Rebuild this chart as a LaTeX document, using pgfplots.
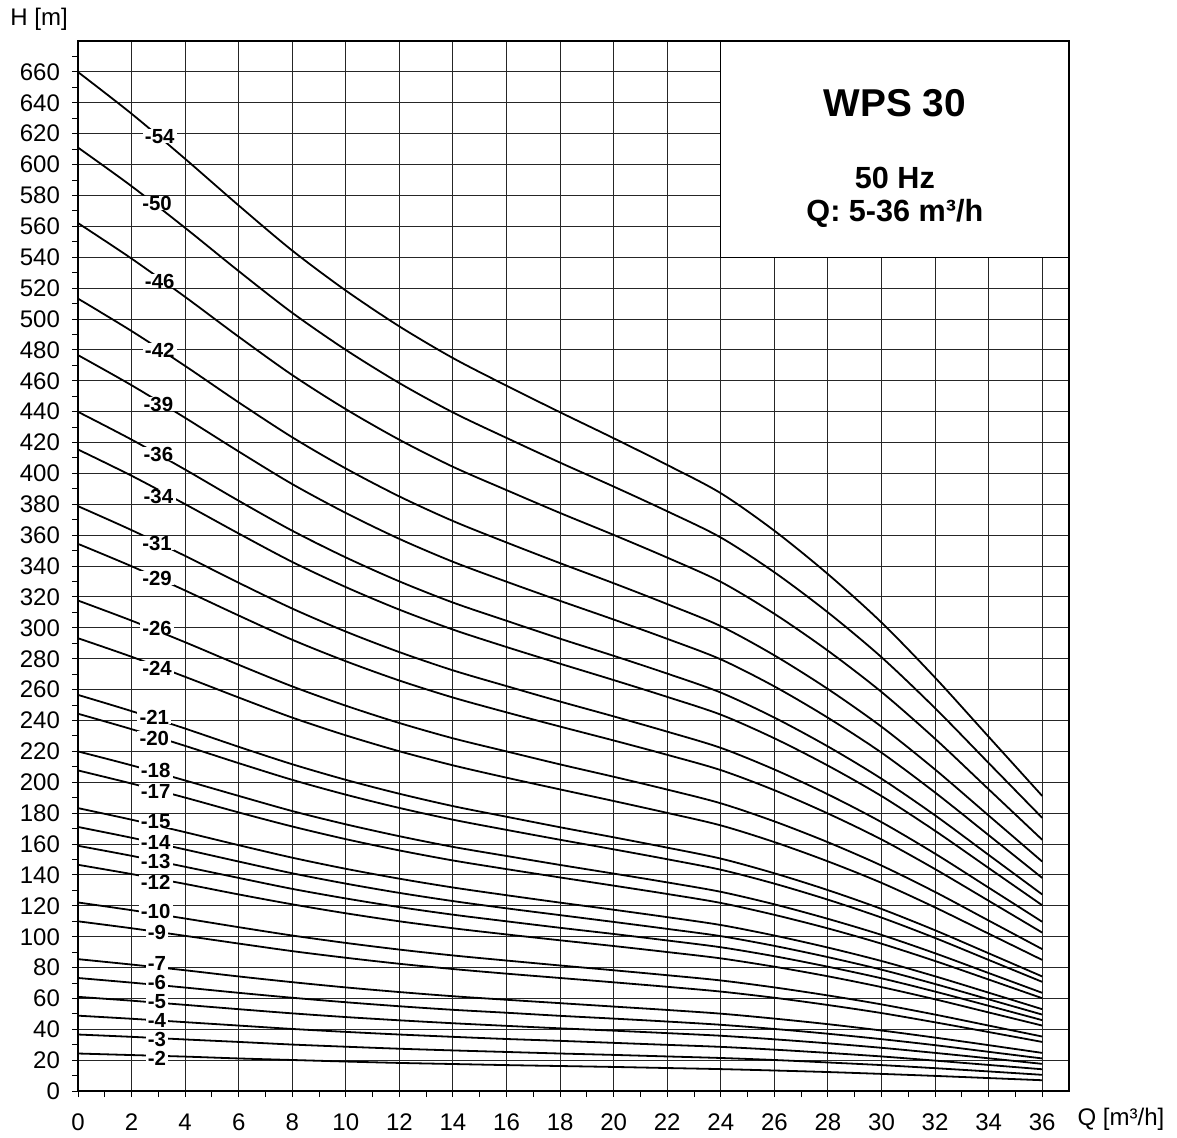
\documentclass[border=0pt]{standalone}
\usepackage{fontspec}
\setmainfont{Liberation Sans}
\usepackage{pgfplots}
\pgfplotsset{compat=1.18}
\tikzset{
  lbl/.style={font=\bfseries\fontsize{10.2}{11}\selectfont, fill=white, inner xsep=1.2pt, inner ysep=0pt},
  pc/.style={black, line width=0.9pt, smooth, mark=none},
}

\begin{document}
\begin{tikzpicture}
\useasboundingbox (-39pt,-23pt) rectangle (549.4pt,545.5pt);
\begin{axis}[
  at={(0pt,0pt)}, anchor=south west,
  scale only axis, width=495.4pt, height=525pt,
  xmin=0, xmax=37, ymin=0, ymax=680,
  xtick={0,2,...,36}, minor xtick={1,3,...,35},
  ytick={0,20,...,660}, minor ytick={10,30,...,670},
  tick pos=left, tick align=outside,
  major tick length=3pt, minor tick length=3pt,
  every tick/.style={black, line width=0.5pt},
  grid=major, major grid style={black!85, line width=0.5pt},
  axis line style={black, line width=1.1pt},
  tick label style={font=\fontsize{12}{14}\selectfont},
  /pgf/number format/assume math mode=true,
  xticklabel style={yshift=-4.7pt},
  yticklabel style={xshift=-2.5pt},
  clip=false,
]
% stage curves H(Q), Q in m3/h, H in m
\addplot[pc] coordinates {(0,24.4) (2,23.4) (4,22.4) (6,21.2) (8,20.2) (10,19.2) (12,18.3) (14,17.6) (16,16.9) (18,16.3) (20,15.7) (22,15.0) (24,14.3) (26,13.4) (28,12.4) (30,11.2) (32,9.9) (34,8.5) (36,7.1)};
\addplot[pc] coordinates {(0,36.7) (2,35.2) (4,33.5) (6,31.9) (8,30.2) (10,28.8) (12,27.5) (14,26.4) (16,25.4) (18,24.4) (20,23.5) (22,22.5) (24,21.5) (26,20.2) (28,18.6) (30,16.9) (32,14.9) (34,12.8) (36,10.6)};
\addplot[pc] coordinates {(0,48.9) (2,46.9) (4,44.7) (6,42.5) (8,40.3) (10,38.4) (12,36.7) (14,35.2) (16,33.8) (18,32.6) (20,31.3) (22,30.0) (24,28.7) (26,26.9) (28,24.8) (30,22.5) (32,19.8) (34,17.0) (36,14.2)};
\addplot[pc] coordinates {(0,61.1) (2,58.6) (4,55.9) (6,53.1) (8,50.4) (10,48.0) (12,45.9) (14,44.0) (16,42.3) (18,40.7) (20,39.2) (22,37.6) (24,35.9) (26,33.6) (28,31.0) (30,28.1) (32,24.8) (34,21.3) (36,17.7)};
\addplot[pc] coordinates {(0,73.3) (2,70.3) (4,67.1) (6,63.7) (8,60.5) (10,57.6) (12,55.0) (14,52.7) (16,50.8) (18,48.8) (20,47.0) (22,45.1) (24,43.0) (26,40.3) (28,37.2) (30,33.7) (32,29.8) (34,25.5) (36,21.2)};
\addplot[pc] coordinates {(0,85.5) (2,82.0) (4,78.3) (6,74.3) (8,70.6) (10,67.2) (12,64.2) (14,61.5) (16,59.2) (18,57.0) (20,54.8) (22,52.6) (24,50.2) (26,47.0) (28,43.4) (30,39.3) (32,34.7) (34,29.8) (36,24.8)};
\addplot[pc] coordinates {(0,110.0) (2,105.5) (4,100.6) (6,95.6) (8,90.7) (10,86.4) (12,82.5) (14,79.1) (16,76.1) (18,73.3) (20,70.5) (22,67.6) (24,64.5) (26,60.5) (28,55.8) (30,50.6) (32,44.6) (34,38.3) (36,31.9)};
\addplot[pc] coordinates {(0,122.2) (2,117.2) (4,111.8) (6,106.2) (8,100.8) (10,96.0) (12,91.7) (14,87.9) (16,84.6) (18,81.4) (20,78.3) (22,75.1) (24,71.7) (26,67.2) (28,62.0) (30,56.2) (32,49.6) (34,42.5) (36,35.4)};
\addplot[pc] coordinates {(0,146.6) (2,140.6) (4,134.2) (6,127.4) (8,121.0) (10,115.2) (12,110.0) (14,105.5) (16,101.5) (18,97.7) (20,94.0) (22,90.1) (24,86.0) (26,80.6) (28,74.4) (30,67.4) (32,59.5) (34,51.0) (36,42.5)};
\addplot[pc] coordinates {(0,158.9) (2,152.4) (4,145.3) (6,138.1) (8,131.0) (10,124.8) (12,119.2) (14,114.3) (16,110.0) (18,105.8) (20,101.8) (22,97.6) (24,93.2) (26,87.4) (28,80.6) (30,73.1) (32,64.5) (34,55.3) (36,46.0)};
\addplot[pc] coordinates {(0,171.1) (2,164.1) (4,156.5) (6,148.7) (8,141.1) (10,134.4) (12,128.4) (14,123.1) (16,118.4) (18,114.0) (20,109.6) (22,105.1) (24,100.4) (26,94.1) (28,86.8) (30,78.7) (32,69.4) (34,59.5) (36,49.6)};
\addplot[pc] coordinates {(0,183.3) (2,175.8) (4,167.7) (6,159.3) (8,151.2) (10,144.0) (12,137.6) (14,131.9) (16,126.9) (18,122.1) (20,117.5) (22,112.7) (24,107.6) (26,100.8) (28,93.0) (30,84.3) (32,74.4) (34,63.8) (36,53.1)};
\addplot[pc] coordinates {(0,207.7) (2,199.2) (4,190.1) (6,180.5) (8,171.4) (10,163.2) (12,155.9) (14,149.4) (16,143.8) (18,138.4) (20,133.1) (22,127.7) (24,121.9) (26,114.2) (28,105.4) (30,95.5) (32,84.3) (34,72.3) (36,60.2)};
\addplot[pc] coordinates {(0,220.0) (2,211.0) (4,201.2) (6,191.2) (8,181.4) (10,172.8) (12,165.1) (14,158.2) (16,152.3) (18,146.5) (20,140.9) (22,135.2) (24,129.1) (26,121.0) (28,111.6) (30,101.2) (32,89.3) (34,76.5) (36,63.7)};
\addplot[pc] coordinates {(0,244.4) (2,234.4) (4,223.6) (6,212.4) (8,201.6) (10,192.0) (12,183.4) (14,175.8) (16,169.2) (18,162.8) (20,156.6) (22,150.2) (24,143.4) (26,134.4) (28,124.0) (30,112.4) (32,99.2) (34,85.0) (36,70.8)};
\addplot[pc] coordinates {(0,256.6) (2,246.1) (4,234.8) (6,223.0) (8,211.7) (10,201.6) (12,192.6) (14,184.6) (16,177.7) (18,170.9) (20,164.4) (22,157.7) (24,150.6) (26,141.1) (28,130.2) (30,118.0) (32,104.2) (34,89.3) (36,74.3)};
\addplot[pc] coordinates {(0,293.3) (2,281.3) (4,268.3) (6,254.9) (8,241.9) (10,230.4) (12,220.1) (14,211.0) (16,203.0) (18,195.4) (20,187.9) (22,180.2) (24,172.1) (26,161.3) (28,148.8) (30,134.9) (32,119.0) (34,102.0) (36,85.0)};
\addplot[pc] coordinates {(0,317.7) (2,304.7) (4,290.7) (6,276.1) (8,262.1) (10,249.6) (12,238.4) (14,228.5) (16,220.0) (18,211.6) (20,203.6) (22,195.3) (24,186.4) (26,174.7) (28,161.2) (30,146.1) (32,129.0) (34,110.5) (36,92.0)};
\addplot[pc] coordinates {(0,354.4) (2,339.9) (4,324.2) (6,308.0) (8,292.3) (10,278.4) (12,265.9) (14,254.9) (16,245.3) (18,236.1) (20,227.1) (22,217.8) (24,207.9) (26,194.9) (28,179.8) (30,163.0) (32,143.8) (34,123.3) (36,102.7)};
\addplot[pc] coordinates {(0,378.8) (2,363.3) (4,346.6) (6,329.2) (8,312.5) (10,297.6) (12,284.3) (14,272.5) (16,262.3) (18,252.3) (20,242.7) (22,232.8) (24,222.3) (26,208.3) (28,192.2) (30,174.2) (32,153.8) (34,131.8) (36,109.7)};
\addplot[pc] coordinates {(0,415.5) (2,398.5) (4,380.1) (6,361.1) (8,342.7) (10,326.4) (12,311.8) (14,298.9) (16,287.6) (18,276.8) (20,266.2) (22,255.3) (24,243.8) (26,228.5) (28,210.8) (30,191.1) (32,168.6) (34,144.5) (36,120.4)};
\addplot[pc] coordinates {(0,439.9) (2,421.9) (4,402.5) (6,382.3) (8,362.9) (10,345.6) (12,330.1) (14,316.4) (16,304.6) (18,293.0) (20,281.9) (22,270.4) (24,258.1) (26,241.9) (28,223.2) (30,202.3) (32,178.6) (34,153.0) (36,127.4)};
\addplot[pc] coordinates {(0,476.6) (2,457.1) (4,436.0) (6,414.2) (8,393.1) (10,374.4) (12,357.6) (14,342.8) (16,329.9) (18,317.5) (20,305.4) (22,292.9) (24,279.6) (26,262.1) (28,241.8) (30,219.2) (32,193.4) (34,165.8) (36,138.1)};
\addplot[pc] coordinates {(0,513.2) (2,492.2) (4,469.6) (6,446.0) (8,423.4) (10,403.2) (12,385.1) (14,369.2) (16,355.3) (18,341.9) (20,328.9) (22,315.4) (24,301.1) (26,282.2) (28,260.4) (30,236.0) (32,208.3) (34,178.5) (36,148.7)};
\addplot[pc] coordinates {(0,562.1) (2,539.1) (4,514.3) (6,488.5) (8,463.7) (10,441.6) (12,421.8) (14,404.3) (16,389.2) (18,374.4) (20,360.2) (22,345.5) (24,329.8) (26,309.1) (28,285.2) (30,258.5) (32,228.2) (34,195.5) (36,162.8)};
\addplot[pc] coordinates {(0,611.0) (2,586.0) (4,559.0) (6,531.0) (8,504.0) (10,480.0) (12,458.5) (14,439.5) (16,423.0) (18,407.0) (20,391.5) (22,375.5) (24,358.5) (26,336.0) (28,310.0) (30,281.0) (32,248.0) (34,212.5) (36,177.0)};
\addplot[pc] coordinates {(0,659.9) (2,632.9) (4,603.7) (6,573.5) (8,544.3) (10,518.4) (12,495.2) (14,474.7) (16,456.8) (18,439.6) (20,422.8) (22,405.5) (24,387.2) (26,362.9) (28,334.8) (30,303.5) (32,267.8) (34,229.5) (36,191.2)};

% curve labels
\node[lbl] at (axis cs:3.05,618.4) {-54};
\node[lbl] at (axis cs:2.95,575.0) {-50};
\node[lbl] at (axis cs:3.05,524.5) {-46};
\node[lbl] at (axis cs:3.05,479.8) {-42};
\node[lbl] at (axis cs:3.0,444.8) {-39};
\node[lbl] at (axis cs:3.0,412.5) {-36};
\node[lbl] at (axis cs:3.0,385.3) {-34};
\node[lbl] at (axis cs:2.95,354.9) {-31};
\node[lbl] at (axis cs:2.95,332.2) {-29};
\node[lbl] at (axis cs:2.95,299.9) {-26};
\node[lbl] at (axis cs:2.95,274.0) {-24};
\node[lbl] at (axis cs:2.85,242.3) {-21};
\node[lbl] at (axis cs:2.85,228.7) {-20};
\node[lbl] at (axis cs:2.9,207.4) {-18};
\node[lbl] at (axis cs:2.9,193.8) {-17};
\node[lbl] at (axis cs:2.9,174.8) {-15};
\node[lbl] at (axis cs:2.9,161.3) {-14};
\node[lbl] at (axis cs:2.9,149.0) {-13};
\node[lbl] at (axis cs:2.9,135.3) {-12};
\node[lbl] at (axis cs:2.9,116.6) {-10};
\node[lbl] at (axis cs:2.95,103.0) {-9};
\node[lbl] at (axis cs:2.95,82.5) {-7};
\node[lbl] at (axis cs:2.95,70.3) {-6};
\node[lbl] at (axis cs:2.95,58.0) {-5};
\node[lbl] at (axis cs:2.95,46.0) {-4};
\node[lbl] at (axis cs:2.95,33.8) {-3};
\node[lbl] at (axis cs:2.95,21.4) {-2};

% title box
\filldraw[fill=white, draw=black, line width=0.6pt] (axis cs:24,540) rectangle (axis cs:37,680);
\draw[line width=1.1pt] (axis cs:24,680) -- (axis cs:37,680) -- (axis cs:37,540);
\node[font=\bfseries\fontsize{19.4}{22}\selectfont] at (axis cs:30.5,639.7) {WPS 30};
\node[font=\bfseries\fontsize{15.3}{17}\selectfont] at (axis cs:30.5,591.2) {50 Hz};
\node[font=\bfseries\fontsize{15.3}{17}\selectfont] at (axis cs:30.5,568.5) {Q: 5-36 m³/h};
\end{axis}
\node[anchor=west, inner sep=0pt, font=\fontsize{12}{14}\selectfont] at (-34pt,536pt) {H [m]};
\node[anchor=west, inner sep=0pt, font=\fontsize{12}{14}\selectfont] at (499.5pt,-14pt) {Q [m³/h]};
\end{tikzpicture}
\end{document}
